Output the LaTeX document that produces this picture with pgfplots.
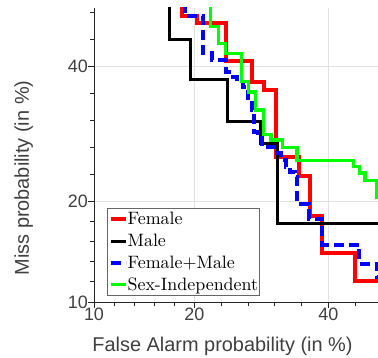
\documentclass[border=0pt]{standalone}
\usepackage{fontspec}
\usepackage{pgfplots}
\pgfplotsset{compat=1.18}
\newfontfamily\lsans{Liberation Sans}
\newfontfamily\lmten{lmroman10-regular.otf}
\definecolor{axgray}{RGB}{38,38,38}
\definecolor{txtgray}{RGB}{64,64,64}
\definecolor{gridgray}{RGB}{225,225,225}
\definecolor{mgreen}{RGB}{0,255,0}
\begin{document}
\begin{tikzpicture}
\begin{axis}[
  name=ax,
  scale only axis,
  width=284bp, height=294.1bp,
  xmin=-1.28155, xmax=-0.0354,
  ymin=-1.28155, ymax=0,
  axis x line*=bottom, axis y line*=left,
  axis line style={draw=axgray, line width=0.7bp},
  every tick/.style={draw=axgray, line width=0.7bp},
  tick align=outside,
  major tick length=6bp, minor tick length=4bp,
  xtick={-1.28155,-0.84162,-0.25335},
  xticklabels={10,20,40},
  ytick={-1.28155,-0.84162,-0.25335},
  yticklabels={10,20,40},
  minor xtick={-1.19356,-1.10558,-1.01759,-0.92961,-0.72397,-0.60631,-0.48866,-0.37100,-0.13570},
  minor ytick={-1.19356,-1.10558,-1.01759,-0.92961,-0.72397,-0.60631,-0.48866,-0.37100,-0.13570,-0.01804},
  grid=major,
  major grid style={draw=gridgray, line width=0.8bp},
  /pgf/number format/assume math mode=true,
  tick label style={font=\lsans\fontsize{18}{18}\selectfont, text=txtgray},
  xticklabel style={anchor=north, inner sep=0pt},
  yticklabel style={anchor=east, inner sep=0pt},
  xlabel={False Alarm probability (in \%)},
  ylabel={Miss probability (in \%)},
  label style={font=\lsans\fontsize{20}{20}\selectfont, text=txtgray},
  xlabel style={at={(axis description cs:0.4525,-0.170)}, anchor=base},
  ylabel style={at={(axis description cs:-0.2289,0.4216)}, anchor=base},
  legend cell align=left,
  legend style={at={(axis description cs:0.0447,0.0214)}, anchor=south west,
    draw=black!60, line width=0.6bp, fill=white,
    inner xsep=1.6bp, inner ysep=3.5bp,
    font=\lmten\fontsize{18}{22.5}\selectfont,
    row sep=7.9bp, nodes={inner sep=0pt},
    /tikz/every even column/.append style={column sep=2bp}},
  legend image code/.code={\draw[#1] (0bp,0bp) -- (15bp,0bp);},
]
\addplot[red, line width=4bp] coordinates {
(-0.8967,0.02) (-0.8967,-0.0354) (-0.8309,-0.0354) (-0.8309,-0.0672)
(-0.7024,-0.0672) (-0.7024,-0.2293) (-0.5896,-0.2293) (-0.5896,-0.3229)
(-0.5356,-0.3229) (-0.5356,-0.3578) (-0.4830,-0.3578) (-0.4830,-0.6497)
(-0.3834,-0.6497) (-0.3834,-0.7325) (-0.3325,-0.7325) (-0.3325,-0.9068)
(-0.2833,-0.9068) (-0.2833,-1.0680) (-0.1376,-1.0680) (-0.1376,-1.1887)
(0.02,-1.1887)};
\addlegendentry{Female}
\addplot[black, line width=3bp] coordinates {
(-0.9511,0.02) (-0.9511,-0.1356) (-0.8572,-0.1356) (-0.8572,-0.3099)
(-0.6936,-0.3099) (-0.6936,-0.4951) (-0.5488,-0.4951) (-0.5488,-0.5901)
(-0.4773,-0.5901) (-0.4773,-0.9386) (0.02,-0.9386)};
\addlegendentry{Male}
\addplot[blue, line width=4bp, dash pattern=on 10bp off 5bp] coordinates {
(-0.8836,0.02) (-0.8836,-0.0354) (-0.8046,-0.0354) (-0.8046,-0.1979)
(-0.7638,-0.1979) (-0.7638,-0.2271) (-0.7024,-0.2271) (-0.7024,-0.2794)
(-0.6717,-0.2794) (-0.6717,-0.3012) (-0.6541,-0.3012) (-0.6541,-0.3229)
(-0.6278,-0.3229) (-0.6278,-0.3447) (-0.6037,-0.3447) (-0.6037,-0.4014)
(-0.5883,-0.4014) (-0.5883,-0.4450) (-0.5795,-0.4450) (-0.5795,-0.5408)
(-0.5619,-0.5408) (-0.5619,-0.5669) (-0.5444,-0.5669) (-0.5444,-0.5931)
(-0.5181,-0.5931) (-0.5181,-0.6062) (-0.4786,-0.6062) (-0.4786,-0.6323)
(-0.4610,-0.6323) (-0.4610,-0.6628) (-0.4391,-0.6628) (-0.4391,-0.6933)
(-0.4215,-0.6933) (-0.4215,-0.7151) (-0.3996,-0.7151) (-0.3996,-0.7369)
(-0.3908,-0.7369) (-0.3908,-0.8524) (-0.3382,-0.8524) (-0.3382,-0.9177)
(-0.2824,-0.9177) (-0.2824,-1.0310) (-0.1187,-1.0310) (-0.1187,-1.1138)
(-0.0411,-1.1138) (-0.0411,-1.1726) (0.02,-1.1726)};
\addlegendentry{Female+Male}
\addplot[mgreen, line width=3.3bp] coordinates {
(-0.7695,0.02) (-0.7695,-0.0820) (-0.7362,-0.0820) (-0.7362,-0.1543)
(-0.7046,-0.1543) (-0.7046,-0.1996) (-0.6335,-0.1996) (-0.6335,-0.3216)
(-0.6045,-0.3216) (-0.6045,-0.3665) (-0.5738,-0.3665) (-0.5738,-0.4450)
(-0.5387,-0.4450) (-0.5387,-0.5517) (-0.5049,-0.5517) (-0.5049,-0.5757)
(-0.4544,-0.5757) (-0.4544,-0.6092) (-0.3908,-0.6092) (-0.3908,-0.6641)
(-0.1438,-0.6641) (-0.1438,-0.6920) (-0.1174,-0.6920) (-0.1174,-0.7195)
(-0.0924,-0.7195) (-0.0924,-0.7513) (-0.0411,-0.7513) (-0.0411,-0.8241)
(0.02,-0.8241)};
\addlegendentry{Sex-Independent}
\end{axis}
\pgfresetboundingbox
\path[use as bounding box] ([xshift=-94bp,yshift=-56bp]ax.south west) rectangle ([xshift=284bp,yshift=302bp]ax.south west);
\end{tikzpicture}
\end{document}
